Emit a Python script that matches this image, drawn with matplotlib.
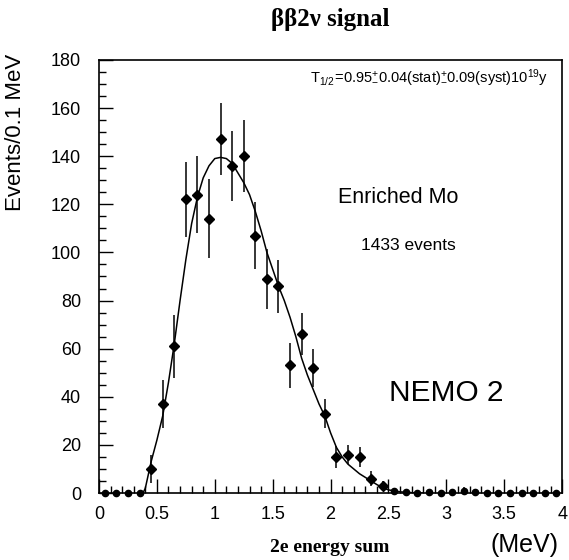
import matplotlib
matplotlib.use("Agg")
import matplotlib.pyplot as plt
from matplotlib.ticker import MultipleLocator

# ---- data ----
bin_centers = [0.05, 0.15, 0.25, 0.35, 0.45, 0.55, 0.65, 0.75, 0.85, 0.95,
               1.05, 1.15, 1.25, 1.35, 1.45, 1.55, 1.65, 1.75, 1.85, 1.95,
               2.05, 2.15, 2.25, 2.35, 2.45, 2.55, 2.65, 2.75, 2.85, 2.95,
               3.05, 3.15, 3.25, 3.35, 3.45, 3.55, 3.65, 3.75, 3.85, 3.95]
counts = [0, 0, 0, 0, 10, 37, 61, 122, 124, 114,
          147, 136, 140, 107, 89, 86, 53, 66, 52, 33,
          15, 16, 15, 6, 3, 1, 0.5, 0, 0.5, 0,
          0.5, 1, 0.5, 0, 0, 0, 0, 0, 0, 0]
errors = [0, 0, 0, 0, 6, 10, 13, 15.5, 16, 16.5,
          15, 14.5, 15, 14, 12.5, 11, 9.5, 8.7, 8, 6,
          4.5, 4, 4, 3, 2, 1.2, 1, 0, 1, 0,
          1, 1.5, 1, 0, 0, 0, 0, 0, 0, 0]

fit_x = [0.38, 0.40, 0.45, 0.50, 0.55, 0.60, 0.65, 0.70, 0.75, 0.80,
         0.85, 0.90, 0.95, 1.00, 1.05, 1.10, 1.15, 1.20, 1.25, 1.30,
         1.35, 1.40, 1.45, 1.50, 1.55, 1.60, 1.65, 1.70, 1.75, 1.80,
         1.85, 1.90, 1.95, 2.00, 2.05, 2.10, 2.15, 2.20, 2.25, 2.30,
         2.35, 2.40, 2.45, 2.50, 2.60, 2.70, 2.80]
fit_y = [0, 2, 13, 22, 32, 46, 62, 80, 97, 112,
         123, 131, 136, 139, 139.5, 139, 137, 133, 129, 124,
         117, 109, 100, 93, 86, 80, 73, 65, 56, 49,
         43, 37, 32, 25, 19, 15, 12, 10, 8, 6.5,
         5, 3.5, 2.2, 1.3, 0.5, 0.15, 0]

title_text = "ββ2ν signal"
xlabel_text = "2e energy sum"
ylabel_text = "Events/0.1 MeV"
halflife_text = r"$\mathregular{T_{1/2}\!=\!0.95^{+}_{-}0.04(stat)^{+}_{-}0.09(syst)10^{19}y}$"

# ---- figure ----
plt.rcParams['font.family'] = ['Liberation Sans', 'DejaVu Sans']
plt.rcParams['mathtext.fontset'] = 'custom'
plt.rcParams['mathtext.rm'] = 'Liberation Sans'

fig = plt.figure(figsize=(5.69, 5.6), dpi=100)
ax = fig.add_axes([0.174, 0.1196, 0.814, 0.7734])

ax.plot(fit_x, fit_y, color='black', lw=1.1)

big_x = [x for x, c in zip(bin_centers, counts) if c > 1.5]
big_y = [c for c in counts if c > 1.5]
big_e = [e for e, c in zip(errors, counts) if c > 1.5]
low_x = [x for x, c in zip(bin_centers, counts) if c <= 1.5]
low_y = [c for c in counts if c <= 1.5]
low_e = [e for e, c in zip(errors, counts) if c <= 1.5]

ax.errorbar(big_x, big_y, yerr=big_e, fmt='D', color='black',
            markersize=5.5, elinewidth=1.1, capsize=0)
ax.errorbar(low_x, low_y, yerr=low_e, fmt='o', color='black',
            markersize=4.5, elinewidth=1.1, capsize=0, clip_on=False)

ax.set_xlim(0, 4)
ax.set_ylim(0, 180)
ax.xaxis.set_minor_locator(MultipleLocator(0.1))
ax.yaxis.set_major_locator(MultipleLocator(20))
ax.yaxis.set_minor_locator(MultipleLocator(5))
ax.set_xticks([0, 0.5, 1, 1.5, 2, 2.5, 3, 3.5, 4])
ax.set_xticklabels(['0', '0.5', '1', '1.5', '2', '2.5', '3', '3.5', '4'])
ax.tick_params(which='both', direction='in', top=False, right=False, labelsize=13)
ax.tick_params(which='major', length=10, width=1)
ax.tick_params(which='minor', length=5, width=1)
ax.tick_params(axis='x', pad=9)
ax.tick_params(axis='y', pad=13)
for s in ax.spines.values():
    s.set_linewidth(1.2)

fig.text(0.027, 0.764, ylabel_text, fontsize=16, rotation=90,
         ha='center', va='center')
fig.text(0.58, 0.023, xlabel_text, family='Liberation Serif', weight='bold',
         fontsize=14, ha='center', va='center')
fig.text(0.921, 0.026, "(MeV)", fontsize=18, ha='center', va='center')
fig.text(0.58, 0.966, title_text, family='Liberation Serif', weight='bold',
         fontsize=18, ha='center', va='center')

ax.text(0.713, 0.958, halflife_text, transform=ax.transAxes, fontsize=10.5,
        ha='center', va='center')
ax.text(2.58, 123, "Enriched Mo", fontsize=15.5, ha='center', va='center')
ax.text(2.67, 103, "1433 events", fontsize=12.5, ha='center', va='center')
ax.text(3.0, 41.7, "NEMO 2", fontsize=21.5, ha='center', va='center')

fig.savefig("out.png", dpi=100)
